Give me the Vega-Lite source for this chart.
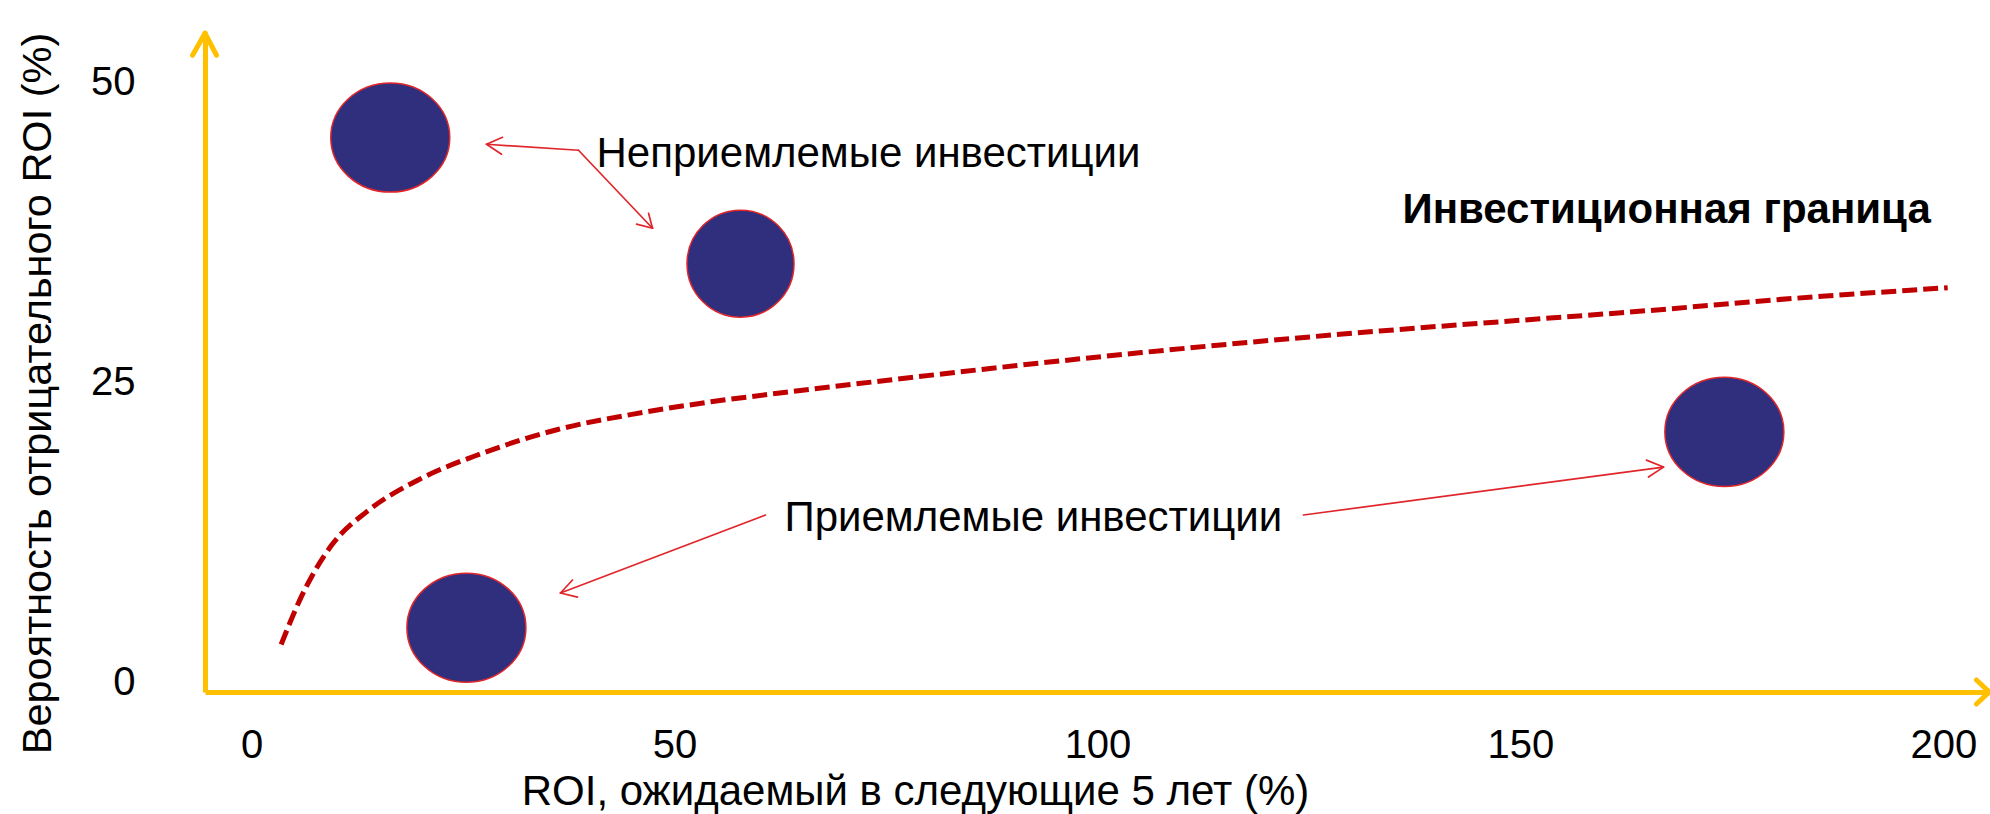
{
  "$schema": "https://vega.github.io/schema/vega-lite/v6.json",
  "width": 1785,
  "height": 659,
  "autosize": {"type": "none"},
  "padding": {"left": 205, "top": 33, "right": 0, "bottom": 122},
  "background": "white",
  "config": {"view": {"stroke": null}, "font": "Liberation Sans"},
  "datasets": {
    "frontier": [
      {"roi": 3.5, "risk": 3.2},
      {"roi": 5.7, "risk": 6.9},
      {"roi": 9.5, "risk": 11.5},
      {"roi": 13.7, "risk": 14.3},
      {"roi": 19.7, "risk": 16.9},
      {"roi": 27.2, "risk": 19.1},
      {"roi": 36.2, "risk": 21.1},
      {"roi": 45.3, "risk": 22.4},
      {"roi": 54.3, "risk": 23.4},
      {"roi": 63.2, "risk": 24.2},
      {"roi": 75.2, "risk": 25.2},
      {"roi": 90.2, "risk": 26.4},
      {"roi": 105.2, "risk": 27.5},
      {"roi": 120.2, "risk": 28.5},
      {"roi": 135.2, "risk": 29.4},
      {"roi": 150.2, "risk": 30.2},
      {"roi": 165.2, "risk": 31.0},
      {"roi": 180.3, "risk": 31.9},
      {"roi": 200.5, "risk": 32.9}
    ],
    "investments": [
      {"name": "A", "roi": 16.4, "risk": 45.4},
      {"name": "B", "roi": 57.8, "risk": 34.9},
      {"name": "C", "roi": 25.4, "risk": 4.6},
      {"name": "D", "roi": 174.1, "risk": 20.9}
    ],
    "arrows": [
      {"roi": 27.78, "risk": 44.84, "roi2": 38.65, "risk2": 44.34},
      {"roi": 38.65, "risk": 44.34, "roi2": 47.40, "risk2": 37.85},
      {"roi": 27.78, "risk": 44.84, "roi2": 29.67, "risk2": 45.42},
      {"roi": 27.78, "risk": 44.84, "roi2": 29.55, "risk2": 44.01},
      {"roi": 47.40, "risk": 37.85, "roi2": 45.51, "risk2": 38.19},
      {"roi": 47.40, "risk": 37.85, "roi2": 46.93, "risk2": 39.10},
      {"roi": 60.76, "risk": 13.98, "roi2": 36.52, "risk2": 7.49},
      {"roi": 36.52, "risk": 7.49, "roi2": 37.94, "risk2": 8.57},
      {"roi": 36.52, "risk": 7.49, "roi2": 38.53, "risk2": 7.15},
      {"roi": 124.35, "risk": 13.98, "roi2": 166.90, "risk2": 17.97},
      {"roi": 166.90, "risk": 17.97, "roi2": 164.89, "risk2": 18.55},
      {"roi": 166.90, "risk": 17.97, "roi2": 165.13, "risk2": 17.14}
    ],
    "axisArrows": [
      {"roi": -5.5, "risk": 54.08, "roi2": -6.97, "risk2": 52.25},
      {"roi": -5.5, "risk": 54.08, "roi2": -4.14, "risk2": 52.25},
      {"roi": 205.4, "risk": -0.75, "roi2": 203.9, "risk2": 0.25},
      {"roi": 205.4, "risk": -0.75, "roi2": 203.9, "risk2": -1.75}
    ],
    "labels": [
      {"text": "Неприемлемые инвестиции", "kind": "normal", "roi": 40.78, "risk": 42.93},
      {"text": "Приемлемые инвестиции", "kind": "normal", "roi": 63.0, "risk": 12.65},
      {"text": "Инвестиционная граница", "kind": "bold", "roi": 136.05, "risk": 38.27}
    ]
  },
  "encoding": {
    "x": {
      "field": "roi",
      "type": "quantitative",
      "scale": {"domain": [-5.5, 205.5], "nice": false, "zero": false},
      "axis": {
        "title": "ROI, ожидаемый в следующие 5 лет (%)",
        "values": [0, 50, 100, 150, 200],
        "grid": false,
        "ticks": false,
        "tickSize": 0,
        "domainColor": "#FFC000",
        "domainWidth": 5,
        "labelFont": "Liberation Sans",
        "labelFontSize": 40,
        "labelColor": "#000000",
        "labelPadding": 33,
        "labelFlush": false,
        "labelOverlap": false,
        "titleFont": "Liberation Sans",
        "titleFontSize": 42,
        "titleFontWeight": "normal",
        "titleColor": "#000000",
        "titleX": 710,
        "titleY": 112,
        "titleAlign": "center",
        "titleBaseline": "alphabetic"
      }
    },
    "y": {
      "field": "risk",
      "type": "quantitative",
      "scale": {"domain": [-0.75, 54.1], "nice": false, "zero": false},
      "axis": {
        "title": "Вероятность отрицательного ROI (%)",
        "values": [0, 25, 50],
        "grid": false,
        "ticks": false,
        "tickSize": 0,
        "domainColor": "#FFC000",
        "domainWidth": 5,
        "labelFont": "Liberation Sans",
        "labelFontSize": 40,
        "labelColor": "#000000",
        "labelPadding": 70,
        "labelAlign": "right",
        "labelBaseline": "middle",
        "labelFlush": false,
        "labelOverlap": false,
        "titleFont": "Liberation Sans",
        "titleFontSize": 41.5,
        "titleFontWeight": "normal",
        "titleColor": "#000000",
        "titleAngle": -90,
        "titleX": -155,
        "titleY": 360,
        "titleAlign": "center",
        "titleBaseline": "alphabetic"
      }
    }
  },
  "layer": [
    {
      "data": {"name": "frontier"},
      "mark": {"type": "line", "color": "#C00000", "strokeWidth": 5, "strokeDash": [15, 6], "strokeCap": "butt", "interpolate": "monotone"},
      "encoding": {}
    },
    {
      "data": {"name": "arrows"},
      "mark": {"type": "rule", "color": "#E0262B", "strokeWidth": 1.7, "strokeCap": "round"},
      "encoding": {
        "x2": {"field": "roi2"},
        "y2": {"field": "risk2"}
      }
    },
    {
      "data": {"name": "axisArrows"},
      "mark": {"type": "rule", "color": "#FFC000", "strokeWidth": 5, "strokeCap": "round"},
      "encoding": {
        "x2": {"field": "roi2"},
        "y2": {"field": "risk2"}
      }
    },
    {
      "data": {"name": "investments"},
      "transform": [{"filter": "datum.name !== 'B'"}],
      "mark": {
        "type": "point",
        "filled": true,
        "fill": "#2F2F7E",
        "stroke": "#E0262B",
        "strokeWidth": 1.5,
        "opacity": 1,
        "fillOpacity": 1,
        "size": 14161,
        "shape": "M1,0C1,0.5065 0.5523,0.917 0,0.917C-0.5523,0.917 -1,0.5065 -1,0C-1,-0.5065 -0.5523,-0.917 0,-0.917C0.5523,-0.917 1,-0.5065 1,0Z"
      }
    },
    {
      "data": {"name": "investments"},
      "transform": [{"filter": "datum.name === 'B'"}],
      "mark": {
        "type": "point",
        "filled": true,
        "fill": "#2F2F7E",
        "stroke": "#E0262B",
        "strokeWidth": 1.5,
        "opacity": 1,
        "fillOpacity": 1,
        "size": 11449,
        "shape": "circle"
      }
    },
    {
      "data": {"name": "labels"},
      "transform": [{"filter": "datum.kind === 'normal'"}],
      "mark": {"type": "text", "align": "left", "baseline": "alphabetic", "font": "Liberation Sans", "fontSize": 42, "color": "#000000"},
      "encoding": {"text": {"field": "text"}}
    },
    {
      "data": {"name": "labels"},
      "transform": [{"filter": "datum.kind === 'bold'"}],
      "mark": {"type": "text", "align": "left", "baseline": "alphabetic", "font": "Liberation Sans", "fontSize": 42, "fontWeight": "bold", "color": "#000000"},
      "encoding": {"text": {"field": "text"}}
    }
  ]
}
